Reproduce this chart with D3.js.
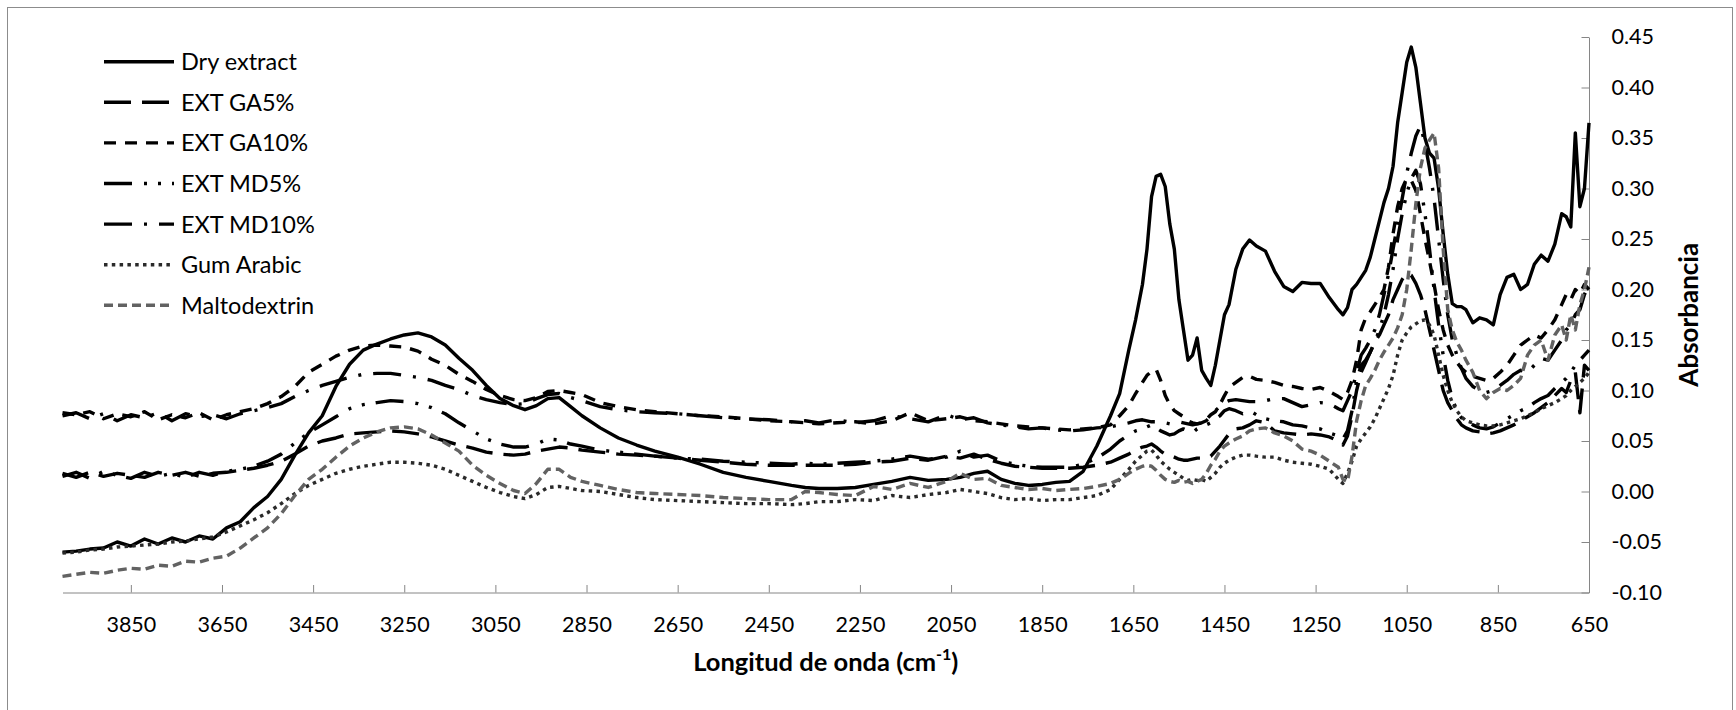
<!DOCTYPE html>
<html>
<head>
<meta charset="utf-8">
<script src="https://cdn.jsdelivr.net/npm/d3@7"></script>
<style>
  body { margin: 0; background: #fff; }
  text { font-family: Lato, "Open Sans", sans-serif; fill: #000; }
</style>
</head>
<body>
<div id="chart"></div>
<script>
// wavenumbers (cm-1), shared by every spectrum
var wavenumbers = [
    4000,3970,3940,3910,3880,3850,3820,3790,3760,3730,
    3700,3670,3640,3610,3580,3550,3520,3490,3460,3430,
    3400,3370,3340,3310,3280,3250,3220,3190,3160,3130,
    3100,3070,3040,3010,2985,2960,2935,2910,2885,2860,
    2820,2780,2740,2700,2650,2600,2550,2500,2450,2400,
    2370,2340,2300,2260,2220,2180,2140,2100,2060,2030,
    2000,1970,1940,1910,1880,1850,1820,1790,
    1760,1730,1700,1680,1660,1645,1630,1620,1610,1600,
    1590,1580,1570,1560,1550,1540,1530,1520,1510,1500,
    1490,1480,1470,1460,1450,1440,1425,1410,1395,1380,
    1360,1340,1320,1300,1280,1260,1240,1220,1200,
    1190,1180,1170,1160,1150,1140,1130,1120,1110,1100,
    1090,1080,1070,1060,1050,1040,1030,1020,1010,1000,
    990,980,970,960,950,940,930,920,905,890,
    875,860,845,830,815,800,785,770,755,740,
    725,710,700,690,680,670,660,650
];

var dryExtract = [
    -0.060,-0.059,-0.057,-0.056,-0.050,-0.054,-0.047,-0.052,-0.046,-0.050,
    -0.044,-0.047,-0.036,-0.030,-0.016,-0.005,0.012,0.036,0.058,0.075,
    0.104,0.126,0.140,0.146,0.151,0.155,0.157,0.153,0.145,0.132,
    0.120,0.105,0.092,0.085,0.081,0.085,0.092,0.093,0.084,0.075,
    0.063,0.053,0.046,0.040,0.034,0.027,0.019,0.014,0.010,0.006,
    0.004,0.003,0.003,0.004,0.007,0.010,0.014,0.011,0.012,0.014,
    0.018,0.020,0.012,0.008,0.006,0.007,0.009,0.010,
    0.020,0.045,0.075,0.097,0.140,0.170,0.205,0.240,0.292,0.312,
    0.314,0.302,0.265,0.240,0.190,0.160,0.130,0.135,0.152,0.120,
    0.112,0.105,0.125,0.150,0.175,0.185,0.220,0.240,0.249,0.243,
    0.238,0.218,0.203,0.198,0.207,0.206,0.206,0.192,0.180,
    0.175,0.182,0.200,0.205,0.212,0.219,0.232,0.250,0.268,0.286,
    0.300,0.322,0.365,0.395,0.425,0.440,0.420,0.385,0.350,0.335,
    0.330,0.300,0.255,0.215,0.186,0.183,0.183,0.180,0.167,0.172,
    0.170,0.165,0.195,0.212,0.215,0.200,0.205,0.225,0.234,0.228,
    0.245,0.275,0.272,0.262,0.355,0.282,0.300,0.365
];

var extGA5 = [
    0.018,0.014,0.019,0.015,0.018,0.016,0.014,0.019,0.016,0.019,
    0.015,0.018,0.019,0.021,0.023,0.026,0.030,0.037,0.045,0.050,
    0.053,0.057,0.058,0.059,0.060,0.059,0.057,0.054,0.050,0.046,
    0.043,0.039,0.037,0.036,0.037,0.040,0.042,0.044,0.043,0.041,
    0.039,0.037,0.036,0.035,0.033,0.031,0.029,0.027,0.026,0.026,
    0.026,0.026,0.026,0.027,0.029,0.030,0.033,0.031,0.035,0.033,
    0.037,0.032,0.028,0.025,0.024,0.023,0.023,0.023,
    0.024,0.026,0.029,0.033,0.037,0.041,0.044,0.045,0.047,0.044,
    0.040,0.037,0.036,0.034,0.032,0.031,0.031,0.032,0.033,0.033,
    0.034,0.035,0.040,0.045,0.051,0.057,0.062,0.063,0.066,0.070,
    0.068,0.060,0.058,0.057,0.056,0.057,0.056,0.054,0.050,
    0.046,0.055,0.075,0.100,0.118,0.128,0.138,0.148,0.155,0.165,
    0.175,0.190,0.200,0.210,0.216,0.214,0.206,0.195,0.180,0.160,
    0.140,0.120,0.100,0.088,0.080,0.072,0.066,0.063,0.060,0.059,
    0.057,0.058,0.060,0.063,0.066,0.070,0.074,0.078,0.083,0.088,
    0.095,0.102,0.098,0.110,0.118,0.078,0.125,0.120
];

var extGA10 = [
    0.078,0.076,0.079,0.072,0.077,0.074,0.079,0.071,0.076,0.073,
    0.078,0.071,0.076,0.079,0.082,0.087,0.094,0.104,0.118,0.126,
    0.134,0.140,0.144,0.145,0.144,0.143,0.139,0.131,0.125,0.116,
    0.109,0.101,0.095,0.091,0.090,0.093,0.099,0.100,0.098,0.096,
    0.088,0.084,0.081,0.079,0.077,0.075,0.074,0.072,0.070,0.069,
    0.068,0.067,0.068,0.069,0.067,0.070,0.078,0.070,0.072,0.074,
    0.070,0.069,0.067,0.065,0.064,0.063,0.062,0.061,
    0.062,0.063,0.066,0.075,0.085,0.097,0.108,0.115,0.119,0.121,
    0.110,0.095,0.086,0.080,0.077,0.074,0.070,0.068,0.067,0.068,
    0.071,0.076,0.079,0.086,0.095,0.103,0.108,0.113,0.114,0.111,
    0.110,0.108,0.105,0.104,0.102,0.101,0.103,0.099,0.094,
    0.091,0.098,0.110,0.130,0.160,0.172,0.178,0.185,0.192,0.200,
    0.222,0.255,0.282,0.300,0.310,0.308,0.298,0.275,0.250,0.228,
    0.205,0.180,0.160,0.145,0.135,0.128,0.122,0.118,0.114,0.112,
    0.110,0.112,0.118,0.125,0.135,0.145,0.150,0.155,0.152,0.160,
    0.170,0.185,0.195,0.190,0.200,0.196,0.205,0.200
];

var extMD5 = [
    0.015,0.019,0.013,0.020,0.016,0.013,0.019,0.015,0.018,0.014,
    0.019,0.016,0.020,0.022,0.025,0.030,0.037,0.048,0.058,0.066,
    0.074,0.082,0.086,0.088,0.090,0.089,0.087,0.083,0.077,0.068,
    0.060,0.052,0.047,0.044,0.044,0.047,0.052,0.051,0.047,0.045,
    0.041,0.039,0.037,0.035,0.033,0.032,0.030,0.029,0.028,0.027,
    0.028,0.027,0.028,0.029,0.030,0.032,0.035,0.032,0.034,0.040,
    0.034,0.036,0.030,0.027,0.025,0.024,0.024,0.024,
    0.027,0.033,0.042,0.050,0.056,0.060,0.062,0.064,0.066,0.063,
    0.060,0.058,0.056,0.057,0.060,0.062,0.060,0.058,0.062,0.064,
    0.066,0.068,0.072,0.075,0.080,0.082,0.080,0.077,0.080,0.076,
    0.072,0.070,0.069,0.066,0.065,0.063,0.062,0.058,0.055,
    0.052,0.060,0.080,0.110,0.125,0.130,0.138,0.148,0.160,0.175,
    0.195,0.220,0.250,0.275,0.295,0.310,0.318,0.305,0.275,0.240,
    0.200,0.165,0.135,0.110,0.092,0.080,0.073,0.070,0.066,0.063,
    0.062,0.064,0.068,0.072,0.076,0.080,0.083,0.088,0.092,0.095,
    0.102,0.108,0.112,0.118,0.125,0.130,0.135,0.140
];

var extMD10 = [
    0.075,0.078,0.072,0.077,0.070,0.076,0.073,0.078,0.070,0.077,
    0.074,0.076,0.072,0.077,0.080,0.083,0.087,0.094,0.100,0.105,
    0.109,0.113,0.116,0.117,0.117,0.115,0.113,0.110,0.105,0.101,
    0.095,0.091,0.088,0.086,0.087,0.092,0.096,0.097,0.093,0.090,
    0.084,0.081,0.079,0.078,0.077,0.075,0.073,0.072,0.071,0.069,
    0.070,0.068,0.071,0.068,0.070,0.075,0.072,0.069,0.076,0.071,
    0.073,0.068,0.066,0.064,0.062,0.063,0.061,0.060,
    0.061,0.063,0.064,0.066,0.068,0.070,0.071,0.070,0.069,0.069,
    0.068,0.068,0.067,0.068,0.069,0.068,0.067,0.066,0.067,0.068,
    0.070,0.075,0.080,0.084,0.088,0.090,0.091,0.090,0.089,0.089,
    0.090,0.092,0.092,0.088,0.084,0.086,0.088,0.087,0.082,
    0.080,0.090,0.100,0.118,0.135,0.142,0.150,0.160,0.175,0.195,
    0.215,0.240,0.265,0.290,0.315,0.335,0.352,0.362,0.345,0.320,
    0.290,0.250,0.210,0.175,0.150,0.135,0.122,0.112,0.104,0.100,
    0.098,0.100,0.105,0.110,0.116,0.120,0.118,0.125,0.132,0.130,
    0.140,0.150,0.160,0.165,0.175,0.180,0.195,0.205
];

var gumArabic = [
    -0.061,-0.060,-0.058,-0.057,-0.055,-0.054,-0.053,-0.052,-0.050,-0.049,
    -0.047,-0.045,-0.040,-0.034,-0.028,-0.021,-0.012,-0.002,0.006,0.012,
    0.018,0.022,0.025,0.027,0.029,0.029,0.028,0.026,0.022,0.016,
    0.010,0.004,-0.001,-0.005,-0.007,-0.003,0.004,0.005,0.003,0.001,
    0.000,-0.003,-0.006,-0.008,-0.009,-0.010,-0.011,-0.012,-0.012,-0.013,
    -0.012,-0.010,-0.010,-0.008,-0.009,-0.004,-0.006,-0.003,-0.001,0.002,
    0.000,-0.002,-0.006,-0.008,-0.007,-0.009,-0.008,-0.008,
    -0.006,-0.004,0.002,0.012,0.022,0.030,0.036,0.040,0.041,0.036,
    0.030,0.026,0.022,0.019,0.016,0.013,0.011,0.012,0.011,0.012,
    0.010,0.014,0.018,0.024,0.028,0.031,0.034,0.036,0.036,0.035,
    0.034,0.034,0.031,0.029,0.028,0.027,0.025,0.022,0.012,
    0.008,0.018,0.030,0.045,0.052,0.058,0.064,0.072,0.082,0.092,
    0.102,0.115,0.135,0.150,0.157,0.163,0.166,0.169,0.170,0.165,
    0.155,0.135,0.115,0.100,0.088,0.080,0.074,0.070,0.068,0.066,
    0.065,0.065,0.066,0.068,0.070,0.072,0.075,0.078,0.082,0.085,
    0.088,0.092,0.095,0.100,0.104,0.108,0.112,0.118
];

var maltodextrin = [
    -0.084,-0.082,-0.080,-0.081,-0.078,-0.076,-0.077,-0.073,-0.074,-0.069,
    -0.070,-0.066,-0.064,-0.056,-0.046,-0.036,-0.022,-0.004,0.012,0.022,
    0.034,0.045,0.053,0.059,0.063,0.064,0.062,0.056,0.048,0.040,
    0.026,0.016,0.008,0.001,-0.002,0.008,0.022,0.022,0.014,0.010,
    0.006,0.002,-0.001,-0.002,-0.003,-0.004,-0.006,-0.007,-0.008,-0.008,
    0.000,-0.001,-0.003,-0.004,0.005,0.002,0.008,0.004,0.010,0.018,
    0.012,0.013,0.006,0.004,0.002,0.003,0.001,0.002,
    0.003,0.005,0.008,0.012,0.018,0.022,0.025,0.026,0.025,0.021,
    0.016,0.012,0.010,0.009,0.011,0.009,0.010,0.008,0.010,0.012,
    0.018,0.026,0.032,0.040,0.045,0.048,0.052,0.055,0.060,0.062,
    0.063,0.058,0.055,0.050,0.042,0.040,0.036,0.030,0.024,
    0.012,0.010,0.035,0.070,0.090,0.105,0.112,0.120,0.130,0.138,
    0.145,0.152,0.162,0.175,0.200,0.240,0.285,0.320,0.340,0.348,
    0.355,0.320,0.240,0.180,0.160,0.148,0.140,0.130,0.118,0.100,
    0.092,0.098,0.102,0.100,0.105,0.112,0.135,0.145,0.150,0.130,
    0.155,0.165,0.150,0.175,0.160,0.185,0.200,0.222
];

var seriesNames = ['Dry extract', 'EXT GA5%', 'EXT GA10%', 'EXT MD5%', 'EXT MD10%', 'Gum Arabic', 'Maltodextrin'];
var seriesValues = [dryExtract, extGA5, extGA10, extMD5, extMD10, gumArabic, maltodextrin];

var xTicks = [3850, 3650, 3450, 3250, 3050, 2850, 2650, 2450, 2250, 2050, 1850, 1650, 1450, 1250, 1050, 850, 650];
var yTicks = [-0.10, -0.05, 0.00, 0.05, 0.10, 0.15, 0.20, 0.25, 0.30, 0.35, 0.40, 0.45];

// line styles (Excel-like dash patterns)
var styles = [
    { color: '#000', dash: null },
    { color: '#000', dash: '27,11' },
    { color: '#000', dash: '12,9' },
    { color: '#000', dash: '28,12,3,11,3,11' },
    { color: '#000', dash: '28,12,3,12' },
    { color: '#2a2a2a', dash: '3.5,4.3' },
    { color: '#626262', dash: '9,5' }
];

var width = 1736;
var height = 710;
var plot = { left: 62.5, right: 1589, top: 37, bottom: 592.5 };
var lineWidth = 3.4;

var svg = d3.select('#chart')
    .append('svg')
    .attr('width', width)
    .attr('height', height);

// chart area border
svg.append('rect')
    .attr('x', 7.5)
    .attr('y', 7.5)
    .attr('width', 1725)
    .attr('height', 720)
    .attr('fill', 'none')
    .attr('stroke', '#8c8c8c')
    .attr('stroke-width', 1);

var x = d3.scaleLinear()
    .domain([4000, 650])
    .range([plot.left, plot.right]);

var y = d3.scaleLinear()
    .domain([-0.10, 0.45])
    .range([plot.bottom, plot.top]);

// x axis, ticks pointing up into the plot
var xAxis = svg.append('g')
    .attr('transform', 'translate(0,' + plot.bottom + ')')
    .call(d3.axisBottom(x)
        .tickValues(xTicks)
        .tickSizeInner(-7.5)
        .tickSizeOuter(0)
        .tickPadding(24)
        .tickFormat(d3.format('d')));

// y axis on the right, ticks pointing left
var yAxis = svg.append('g')
    .attr('transform', 'translate(' + plot.right + ',0)')
    .call(d3.axisRight(y)
        .tickValues(yTicks)
        .tickSizeInner(-7.5)
        .tickSizeOuter(0)
        .tickPadding(22.5)
        .tickFormat((d) => d.toFixed(2)));

[xAxis, yAxis].forEach(function(g) {
    g.select('.domain').attr('stroke', '#868686').attr('stroke-width', 1);
    g.selectAll('.tick line').attr('stroke', '#868686').attr('stroke-width', 1);
    g.selectAll('.tick text')
        .attr('font-family', 'Lato, sans-serif')
        .attr('font-size', 21.5)
        .attr('fill', '#000');
});

var line = d3.line()
    .x((d) => x(d[0]))
    .y((d) => y(d[1]));

var series = seriesNames.map(function(name, i) {
    return {
        name: name,
        points: wavenumbers.map((w, j) => [w, seriesValues[i][j]]),
        style: styles[i]
    };
});

svg.append('g')
    .selectAll('path')
    .data(series)
    .enter()
    .append('path')
    .attr('d', (d) => line(d.points))
    .attr('fill', 'none')
    .attr('stroke', (d) => d.style.color)
    .attr('stroke-width', lineWidth)
    .attr('stroke-linejoin', 'round')
    .attr('stroke-dasharray', (d) => d.style.dash);

// legend
var legend = svg.append('g')
    .selectAll('g')
    .data(series)
    .enter()
    .append('g')
    .attr('transform', (d, i) => 'translate(104,' + (61.7 + i * 40.6) + ')');

legend.append('line')
    .attr('x1', 0)
    .attr('x2', 70)
    .attr('stroke', (d) => d.style.color)
    .attr('stroke-width', lineWidth)
    .attr('stroke-dasharray', (d) => d.style.dash);

legend.append('text')
    .attr('x', 77)
    .attr('y', 8.5)
    .attr('font-size', 23.5)
    .text((d) => d.name);

// axis titles
var xTitle = svg.append('text')
    .attr('x', (plot.left + plot.right) / 2)
    .attr('y', 671)
    .attr('text-anchor', 'middle')
    .attr('font-size', 25.5)
    .attr('font-weight', 'bold');
xTitle.append('tspan').text('Longitud de onda (cm');
xTitle.append('tspan').attr('font-size', 16).attr('dy', -11).text('-1');
xTitle.append('tspan').attr('dy', 11).text(')');

svg.append('text')
    .attr('transform', 'translate(1698,' + ((plot.top + plot.bottom) / 2) + ') rotate(-90)')
    .attr('text-anchor', 'middle')
    .attr('font-size', 26)
    .attr('font-weight', 'bold')
    .text('Absorbancia');
</script>
</body>
</html>
